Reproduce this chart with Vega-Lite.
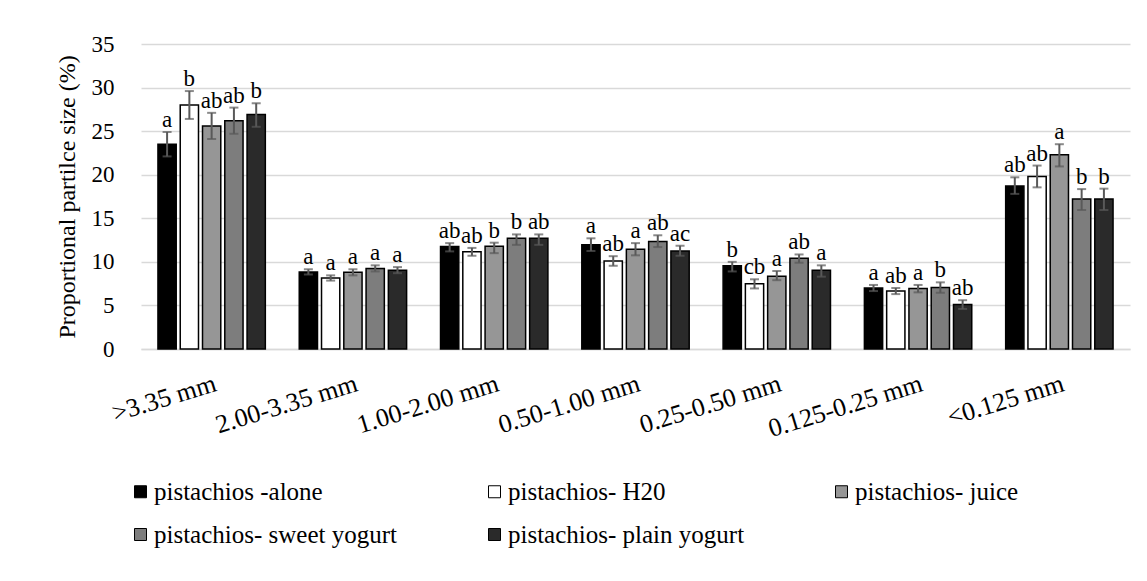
{
  "$schema": "https://vega.github.io/schema/vega-lite/v6.json",
  "width": 989,
  "height": 305,
  "autosize": "none",
  "padding": {"left": 141, "top": 44, "right": 17, "bottom": 232},
  "background": "white",
  "config": {
    "font": "Liberation Serif, Times New Roman, serif",
    "view": {"stroke": null},
    "axis": {"labelFont": "Liberation Serif, Times New Roman, serif", "titleFont": "Liberation Serif, Times New Roman, serif", "labelColor": "#000000", "titleColor": "#000000"},
    "legend": {"labelFont": "Liberation Serif, Times New Roman, serif"},
    "text": {"font": "Liberation Serif, Times New Roman, serif"}
  },
  "data": {
    "values": [
      {"cat": ">3.35 mm", "treat": "pistachios -alone", "value": 23.5, "lo": 22.1, "hi": 24.9, "sig": "a"},
      {"cat": ">3.35 mm", "treat": "pistachios- H20", "value": 28.0, "lo": 26.4, "hi": 29.6, "sig": "b"},
      {"cat": ">3.35 mm", "treat": "pistachios- juice", "value": 25.6, "lo": 24.1, "hi": 27.1, "sig": "ab"},
      {"cat": ">3.35 mm", "treat": "pistachios- sweet yogurt", "value": 26.2, "lo": 24.7, "hi": 27.7, "sig": "ab"},
      {"cat": ">3.35 mm", "treat": "pistachios- plain yogurt", "value": 26.9, "lo": 25.5, "hi": 28.2, "sig": "b"},
      {"cat": "2.00-3.35 mm", "treat": "pistachios -alone", "value": 8.85, "lo": 8.55, "hi": 9.15, "sig": "a"},
      {"cat": "2.00-3.35 mm", "treat": "pistachios- H20", "value": 8.15, "lo": 7.85, "hi": 8.45, "sig": "a"},
      {"cat": "2.00-3.35 mm", "treat": "pistachios- juice", "value": 8.8, "lo": 8.45, "hi": 9.15, "sig": "a"},
      {"cat": "2.00-3.35 mm", "treat": "pistachios- sweet yogurt", "value": 9.25, "lo": 8.9, "hi": 9.6, "sig": "a"},
      {"cat": "2.00-3.35 mm", "treat": "pistachios- plain yogurt", "value": 9.05, "lo": 8.7, "hi": 9.4, "sig": "a"},
      {"cat": "1.00-2.00 mm", "treat": "pistachios -alone", "value": 11.75, "lo": 11.2, "hi": 12.15, "sig": "ab"},
      {"cat": "1.00-2.00 mm", "treat": "pistachios- H20", "value": 11.15, "lo": 10.7, "hi": 11.6, "sig": "ab"},
      {"cat": "1.00-2.00 mm", "treat": "pistachios- juice", "value": 11.8, "lo": 11.0, "hi": 12.2, "sig": "b"},
      {"cat": "1.00-2.00 mm", "treat": "pistachios- sweet yogurt", "value": 12.7, "lo": 11.95, "hi": 13.15, "sig": "b"},
      {"cat": "1.00-2.00 mm", "treat": "pistachios- plain yogurt", "value": 12.7, "lo": 11.95, "hi": 13.15, "sig": "ab"},
      {"cat": "0.50-1.00 mm", "treat": "pistachios -alone", "value": 11.95, "lo": 11.25, "hi": 12.7, "sig": "a"},
      {"cat": "0.50-1.00 mm", "treat": "pistachios- H20", "value": 10.1, "lo": 9.55, "hi": 10.65, "sig": "ab"},
      {"cat": "0.50-1.00 mm", "treat": "pistachios- juice", "value": 11.45, "lo": 10.75, "hi": 12.15, "sig": "a"},
      {"cat": "0.50-1.00 mm", "treat": "pistachios- sweet yogurt", "value": 12.35, "lo": 11.7, "hi": 13.05, "sig": "ab"},
      {"cat": "0.50-1.00 mm", "treat": "pistachios- plain yogurt", "value": 11.25, "lo": 10.7, "hi": 11.85, "sig": "ac"},
      {"cat": "0.25-0.50 mm", "treat": "pistachios -alone", "value": 9.55, "lo": 8.9, "hi": 10.0, "sig": "b"},
      {"cat": "0.25-0.50 mm", "treat": "pistachios- H20", "value": 7.5, "lo": 6.95, "hi": 8.0, "sig": "cb"},
      {"cat": "0.25-0.50 mm", "treat": "pistachios- juice", "value": 8.35, "lo": 7.9, "hi": 8.95, "sig": "a"},
      {"cat": "0.25-0.50 mm", "treat": "pistachios- sweet yogurt", "value": 10.4, "lo": 9.9, "hi": 10.85, "sig": "ab"},
      {"cat": "0.25-0.50 mm", "treat": "pistachios- plain yogurt", "value": 9.05, "lo": 8.3, "hi": 9.6, "sig": "a"},
      {"cat": "0.125-0.25 mm", "treat": "pistachios -alone", "value": 7.0, "lo": 6.65, "hi": 7.35, "sig": "a"},
      {"cat": "0.125-0.25 mm", "treat": "pistachios- H20", "value": 6.65, "lo": 6.3, "hi": 7.0, "sig": "ab"},
      {"cat": "0.125-0.25 mm", "treat": "pistachios- juice", "value": 6.95, "lo": 6.5, "hi": 7.35, "sig": "a"},
      {"cat": "0.125-0.25 mm", "treat": "pistachios- sweet yogurt", "value": 7.05, "lo": 6.45, "hi": 7.65, "sig": "b"},
      {"cat": "0.125-0.25 mm", "treat": "pistachios- plain yogurt", "value": 5.1, "lo": 4.6, "hi": 5.6, "sig": "ab"},
      {"cat": "<0.125 mm", "treat": "pistachios -alone", "value": 18.7, "lo": 17.8, "hi": 19.7, "sig": "ab"},
      {"cat": "<0.125 mm", "treat": "pistachios- H20", "value": 19.8, "lo": 18.55, "hi": 21.05, "sig": "ab"},
      {"cat": "<0.125 mm", "treat": "pistachios- juice", "value": 22.3, "lo": 20.95, "hi": 23.5, "sig": "a"},
      {"cat": "<0.125 mm", "treat": "pistachios- sweet yogurt", "value": 17.2, "lo": 15.95, "hi": 18.35, "sig": "b"},
      {"cat": "<0.125 mm", "treat": "pistachios- plain yogurt", "value": 17.2, "lo": 15.95, "hi": 18.4, "sig": "b"}
    ]
  },
  "encoding": {
    "x": {
      "field": "cat",
      "type": "nominal",
      "sort": [">3.35 mm", "2.00-3.35 mm", "1.00-2.00 mm", "0.50-1.00 mm", "0.25-0.50 mm", "0.125-0.25 mm", "<0.125 mm"],
      "scale": {"paddingInner": 0.24, "paddingOuter": 0.12},
      "axis": {
        "title": null,
        "labelAngle": -17,
        "labelAlign": "right",
        "labelBaseline": "top",
        "labelPadding": 21,
        "labelFontSize": 26,
        "ticks": false,
        "domainColor": "#d9d9d9",
        "domainWidth": 1.5,
        "grid": false
      }
    },
    "xOffset": {
      "field": "treat",
      "type": "nominal",
      "sort": ["pistachios -alone", "pistachios- H20", "pistachios- juice", "pistachios- sweet yogurt", "pistachios- plain yogurt"],
      "scale": {"paddingInner": 0.18, "paddingOuter": 0}
    }
  },
  "layer": [
    {
      "mark": {"type": "bar", "stroke": "#000000", "strokeWidth": 1.5},
      "encoding": {
        "y": {
          "field": "value",
          "type": "quantitative",
          "scale": {"domain": [0, 35], "nice": false},
          "axis": {
            "title": "Proportional partilce size (%)",
            "titleFontSize": 24,
            "titleFontWeight": "normal",
            "titlePadding": 12,
            "values": [0, 5, 10, 15, 20, 25, 30, 35],
            "labelFontSize": 23,
            "labelPadding": 27,
            "ticks": false,
            "domain": false,
            "gridColor": "#d9d9d9",
            "gridWidth": 1.5
          }
        },
        "color": {
          "field": "treat",
          "type": "nominal",
          "scale": {
            "domain": ["pistachios -alone", "pistachios- H20", "pistachios- juice", "pistachios- sweet yogurt", "pistachios- plain yogurt"],
            "range": ["#000000", "#ffffff", "#969696", "#7d7d7d", "#2a2a2a"]
          },
          "legend": {
            "title": null,
            "orient": "none",
            "legendX": -13,
            "legendY": 435,
            "direction": "horizontal",
            "columns": 3,
            "symbolType": "square",
            "symbolSize": 144,
            "symbolStrokeColor": "#000000",
            "symbolStrokeWidth": 1,
            "labelFont": "Liberation Serif, Times New Roman, serif",
            "labelFontSize": 25,
            "labelColor": "#000000",
            "labelLimit": 400,
            "labelOffset": 1,
            "columnPadding": 84,
            "rowPadding": 17
          }
        }
      }
    },
    {
      "mark": {"type": "rule", "color": "#595959", "strokeWidth": 2},
      "encoding": {
        "y": {"field": "lo", "type": "quantitative"},
        "y2": {"field": "hi"}
      }
    },
    {
      "mark": {"type": "tick", "color": "#595959", "thickness": 2, "size": 9},
      "encoding": {"y": {"field": "lo", "type": "quantitative"}}
    },
    {
      "mark": {"type": "tick", "color": "#595959", "thickness": 2, "size": 9},
      "encoding": {"y": {"field": "hi", "type": "quantitative"}}
    },
    {
      "mark": {"type": "text", "baseline": "alphabetic", "dy": -5, "fontSize": 23, "color": "#000000"},
      "encoding": {
        "y": {"field": "hi", "type": "quantitative"},
        "text": {"field": "sig"}
      }
    }
  ]
}
